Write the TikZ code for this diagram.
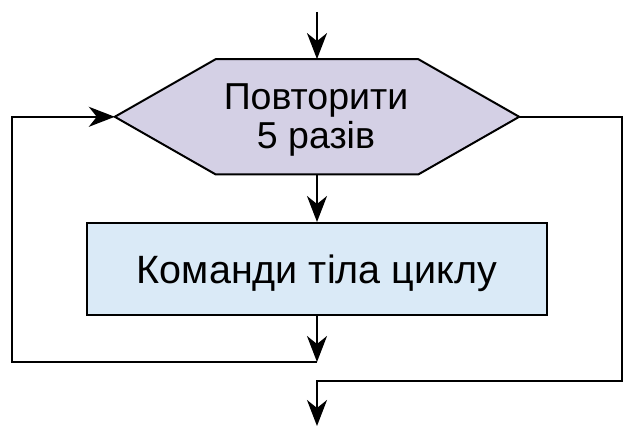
\documentclass[tikz,border=0pt]{standalone}
\usepackage{fontspec}
\setmainfont{Liberation Sans}
\usetikzlibrary{arrows.meta,calc}
\definecolor{hexfill}{RGB}{212,208,229}
\definecolor{boxfill}{RGB}{218,234,247}
\begin{document}
\begin{tikzpicture}[x=1pt,y=-1pt,
  line/.style={line width=2pt,draw=black},
  arr/.style={line,-{Stealth[length=26pt,width=20pt,inset=8pt]}},
  hexttxt/.style={font=\fontsize{37.5}{39}\selectfont,text=black,inner sep=0pt,anchor=base},
  bodytxt/.style={font=\fontsize{39.5}{44}\selectfont,text=black,text height=28.7pt,text depth=0pt}]
\useasboundingbox (0,0) rectangle (633,436);
% hexagon
\node[minimum width=404pt,minimum height=115pt,inner sep=0pt] (hex) at (317,116.8) {};
\draw[line,fill=hexfill,line join=miter]
  (hex.west) -- ($(hex.north west)+(101,0)$) -- ($(hex.north east)+(-101,0)$)
  -- (hex.east) -- ($(hex.south east)+(-101,0)$) -- ($(hex.south west)+(101,0)$) -- cycle;
\node[hexttxt] (hext1) at (316,110) {Повторити};
\node[hexttxt] (hext2) at (316,149) {5 разів};
% body box
\node[line,fill=boxfill,minimum width=460pt,minimum height=92pt,inner sep=0pt,bodytxt] (body) at (317,269) {Команди тіла циклу};
% coordinates
\coordinate (start) at (317,12);
\coordinate (join) at (317,362);
\coordinate (lc) at (12,362);
\coordinate (rc) at (622,381);
\coordinate (jr) at (317,381);
\coordinate (end) at (317,426);
% connectors
\draw[arr] (start) -- (hex.north);
\draw[arr] (hex.south) -- (body.north);
\draw[arr] (body.south) -- (join);
\draw[arr] (join) -- (lc) |- (hex.west);
\draw[arr] (hex.east) -| (rc) -- (jr) -- (end);
\end{tikzpicture}
\end{document}
